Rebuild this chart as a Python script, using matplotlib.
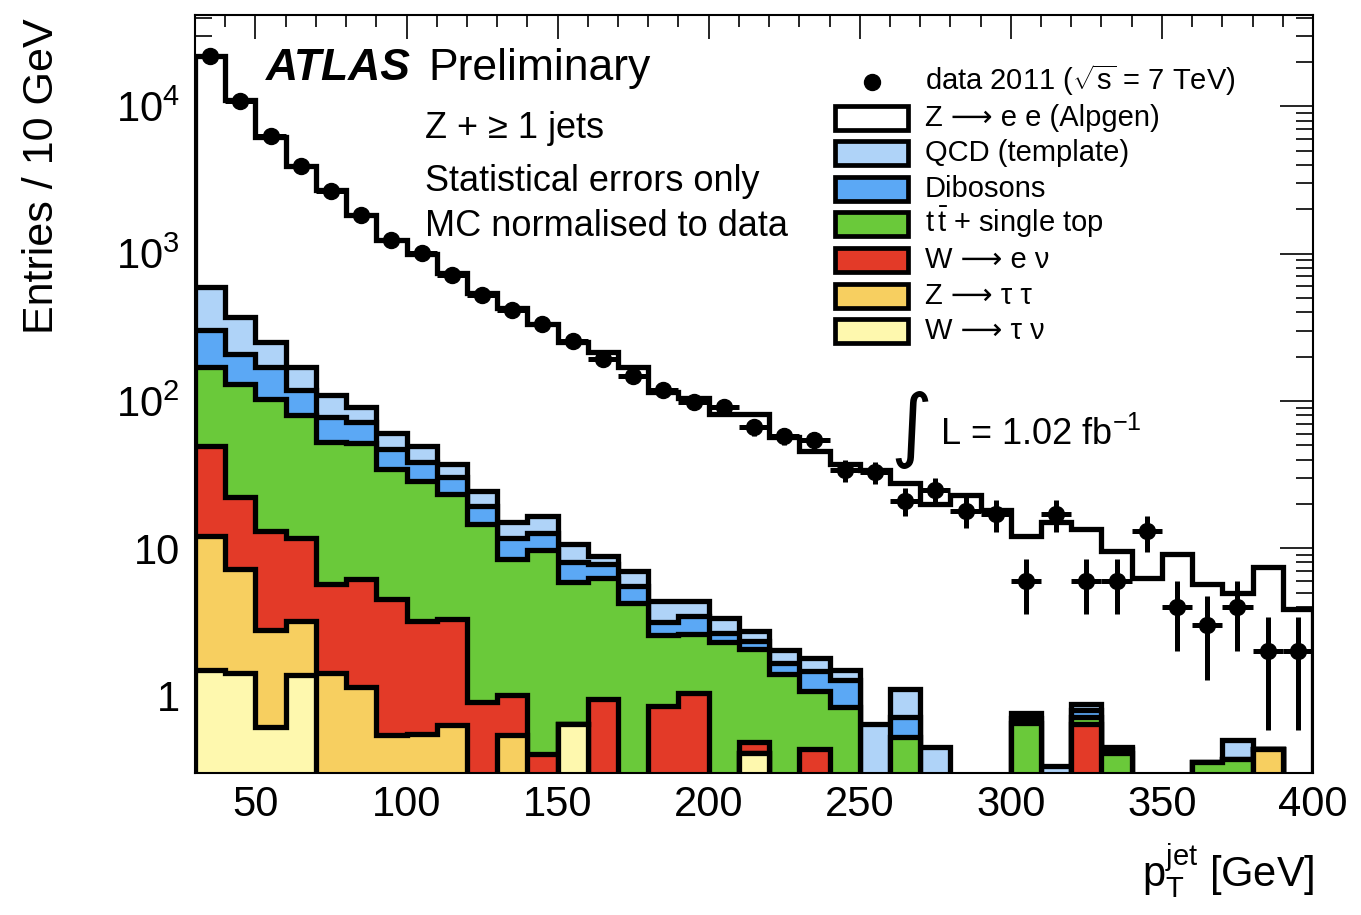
import numpy as np
import matplotlib
matplotlib.use('Agg')
import matplotlib.pyplot as plt
from matplotlib.patches import Rectangle
from matplotlib.lines import Line2D
from matplotlib.ticker import FixedLocator, FixedFormatter, MultipleLocator, NullFormatter, LogLocator

plt.rcParams['font.family'] = ['Liberation Sans', 'DejaVu Sans']
plt.rcParams['mathtext.fontset'] = 'custom'
plt.rcParams['mathtext.rm'] = 'Liberation Sans'
plt.rcParams['mathtext.it'] = 'Liberation Sans:italic'
plt.rcParams['mathtext.bf'] = 'Liberation Sans:bold'

# ---------------- data ----------------
bin_edges = np.arange(30, 401, 10)

data = [22000, 10900, 6250, 3940, 2650, 1820, 1230, 1010, 720, 522,
        413, 335, 254, 191, 147, 119, 99, 91, 66, 58,
        54, 34, 33, 21, 25, 18, 17, 6, 17, 6,
        6, 13, 4, 3, 4, 2, 2]

z_ee = [21200, 10580, 5980, 3770, 2590, 1730, 1170, 950, 698, 514,
        409, 318, 240, 206, 163, 111, 99.6, 78.4, 79.1, 54.7,
        44.2, 35.9, 33.1, 26.7, 19.55, 22.8, 18.2, 11.4, 14.7, 12.6,
        9.15, 6.3, 9.1, 5.35, 4.5, 6.97, 3.86]

qcd = [295, 163, 81, 52, 31.4, 19, 13.8, 11.5, 7.0, 5.2,
       3.3, 4.0, 2.7, 1.0, 1.39, 1.27, 0.96, 0.71, 0.37, 0.38,
       0.32, 0.21, 0.64, 0.39, 0.45, 0, 0, 0.06, 0.33, 0.08,
       0.02, 0, 0, 0, 0.13, 0, 0]

diboson = [132, 78, 66.5, 38.4, 25.2, 19.8, 12.7, 9.6, 7.0, 4.8,
           3.2, 2.9, 2.15, 1.53, 1.32, 0.56, 0.84, 0.35, 0.29, 0.24,
           0.39, 0.43, 0, 0.19, 0, 0, 0, 0.05, 0, 0.09,
           0.02, 0, 0, 0, 0, 0, 0]

top = [120.3, 108.9, 90.4, 67.8, 46.7, 45.9, 30.0, 25.5, 20.0, 13.7,
       7.5, 9.3, 5.21, 5.33, 4.24, 1.72, 1.56, 2.32, 1.575, 1.41,
       0.65, 0.84, 0, 0.52, 0, 0, 0, 0.65, 0, 0.07,
       0.41, 0, 0, 0.355, 0.37, 0, 0]

w_enu = [37.6, 14.9, 10.3, 8.61, 4.26, 4.99, 3.95, 2.64, 2.65, 0.91,
         0.46, 0.40, 0, 0.94, 0, 0.85, 1.04, 0, 0.075, 0,
         0.43, 0, 0, 0, 0, 0, 0, 0, 0, 0.64,
         0, 0, 0, 0, 0, 0, 0]

z_tautau = [10.6, 5.77, 2.19, 1.81, 1.42, 1.15, 0.54, 0.55, 0.63, 0,
            0.54, 0, 0, 0, 0, 0, 0, 0, 0, 0,
            0, 0, 0, 0, 0, 0, 0, 0, 0, 0,
            0, 0, 0, 0, 0, 0.43, 0]

w_taunu = [1.5, 1.42, 0.61, 1.38, 0, 0, 0, 0, 0, 0,
           0, 0, 0.64, 0, 0, 0, 0, 0, 0.41, 0,
           0, 0, 0, 0, 0, 0, 0, 0, 0, 0,
           0, 0, 0, 0, 0, 0, 0]

labels = ['W \u27f6 \u03c4 \u03bd', 'Z \u27f6 \u03c4 \u03c4', 'W \u27f6 e \u03bd',
          r'$\mathrm{t}\,\bar{\mathrm{t}}$ + single top', 'Dibosons', 'QCD (template)',
          'Z \u27f6 e e (Alpgen)']
colors = ['#FEF8AE', '#F7CF60', '#E33A28', '#6AC93A', '#5BA8F5', '#AFD3F8', '#FFFFFF']

# ---------------- figure ----------------
W, H = 1361, 915
fig = plt.figure(figsize=(W / 100, H / 100), dpi=100)
fig.subplots_adjust(left=195 / W, right=1313 / W, bottom=1 - 772.5 / H, top=1 - 14.5 / H)
ax = fig.add_subplot(111)
ax.set_yscale('log')

layers = [w_taunu, z_tautau, w_enu, top, diboson, qcd, z_ee]
cum = np.cumsum(np.array(layers, dtype=float), axis=0)
base = 1e-3
for k in reversed(range(len(layers))):
    vals = np.where(cum[k] > 0, cum[k], base)
    ax.stairs(vals, bin_edges, baseline=base, fill=True, facecolor=colors[k],
              edgecolor='black', linewidth=3.8, joinstyle='miter', zorder=2 + (6 - k) * 0.01)

centers = 0.5 * (bin_edges[:-1] + bin_edges[1:])
d = np.array(data, dtype=float)
err = np.sqrt(d)
ax.errorbar(centers, d, xerr=5, yerr=[np.minimum(err, d - 1e-3), err], fmt='o',
            color='black', ms=11.5, elinewidth=3.6, capsize=0, zorder=10)

ax.set_xlim(30, 400)
ax.set_ylim(0.3, 4.2e4)

ax.xaxis.set_major_locator(MultipleLocator(50))
ax.xaxis.set_minor_locator(MultipleLocator(10))
ax.yaxis.set_major_locator(FixedLocator([1, 10, 100, 1000, 10000]))
ax.yaxis.set_major_formatter(FixedFormatter(['1', '10', r'$10^{2}$', r'$10^{3}$', r'$10^{4}$']))
ax.yaxis.set_minor_locator(LogLocator(base=10, subs=np.arange(2, 10)))
ax.yaxis.set_minor_formatter(NullFormatter())

ax.tick_params(which='both', direction='in', top=True, right=True, width=1.2, labelsize=30)
ax.tick_params(axis='x', which='major', length=17, pad=9)
ax.tick_params(axis='x', which='minor', length=8.5)
ax.tick_params(axis='y', which='major', length=24, pad=11)
ax.tick_params(axis='y', which='minor', length=12)
for s in ax.spines.values():
    s.set_linewidth(1.5)
    s.set_zorder(20)


def fx(px):
    return px / W


def fy(py):
    return 1 - py / H


# axis titles
fig.text(fx(42), fy(18), 'Entries / 10 GeV', rotation=90, ha='center', va='top', fontsize=31)
fig.text(fx(1315), fy(887), r'$\mathrm{p}_{\mathrm{T}}^{\mathrm{jet}}$ [GeV]', ha='right',
         va='baseline', fontsize=30)

# ATLAS labels
fig.text(fx(266), fy(80), 'ATLAS', fontsize=32, fontweight='bold', fontstyle='italic', va='baseline')
fig.text(fx(428), fy(80), 'Preliminary', fontsize=32, va='baseline')
fig.text(fx(425), fy(138), 'Z + \u2265 1 jets', fontsize=26, va='baseline')
fig.text(fx(425), fy(191), 'Statistical errors only', fontsize=26, va='baseline')
fig.text(fx(425), fy(236), 'MC normalised to data', fontsize=26, va='baseline')

# luminosity
fig.text(fx(911), fy(430), '\u222b', fontsize=58, ha='center', va='center', family=['DejaVu Sans'])
fig.text(fx(940), fy(445), r'L = 1.02 fb$^{\mathrm{-1}}$', fontsize=26, va='baseline')

# legend (drawn by hand)
row0, dy = 82, 35.6
fig.add_artist(Line2D([fx(872)], [fy(row0)], marker='o', ms=11.5, color='black',
                      transform=fig.transFigure))
fig.text(fx(925), fy(row0 + 8), r'data 2011 ($\sqrt{\mathrm{s}}$ = 7 TeV)', fontsize=21, va='baseline')
for i, k in enumerate(reversed(range(len(layers)))):
    yc = row0 + dy * (i + 1)
    fig.add_artist(Rectangle((fx(835), fy(yc + 12)), 73 / W, 24 / H, transform=fig.transFigure,
                             facecolor=colors[k], edgecolor='black', linewidth=3.4))
    fig.text(fx(925), fy(yc + 8), labels[k], fontsize=21, va='baseline')

fig.savefig('out.png', dpi=100)
